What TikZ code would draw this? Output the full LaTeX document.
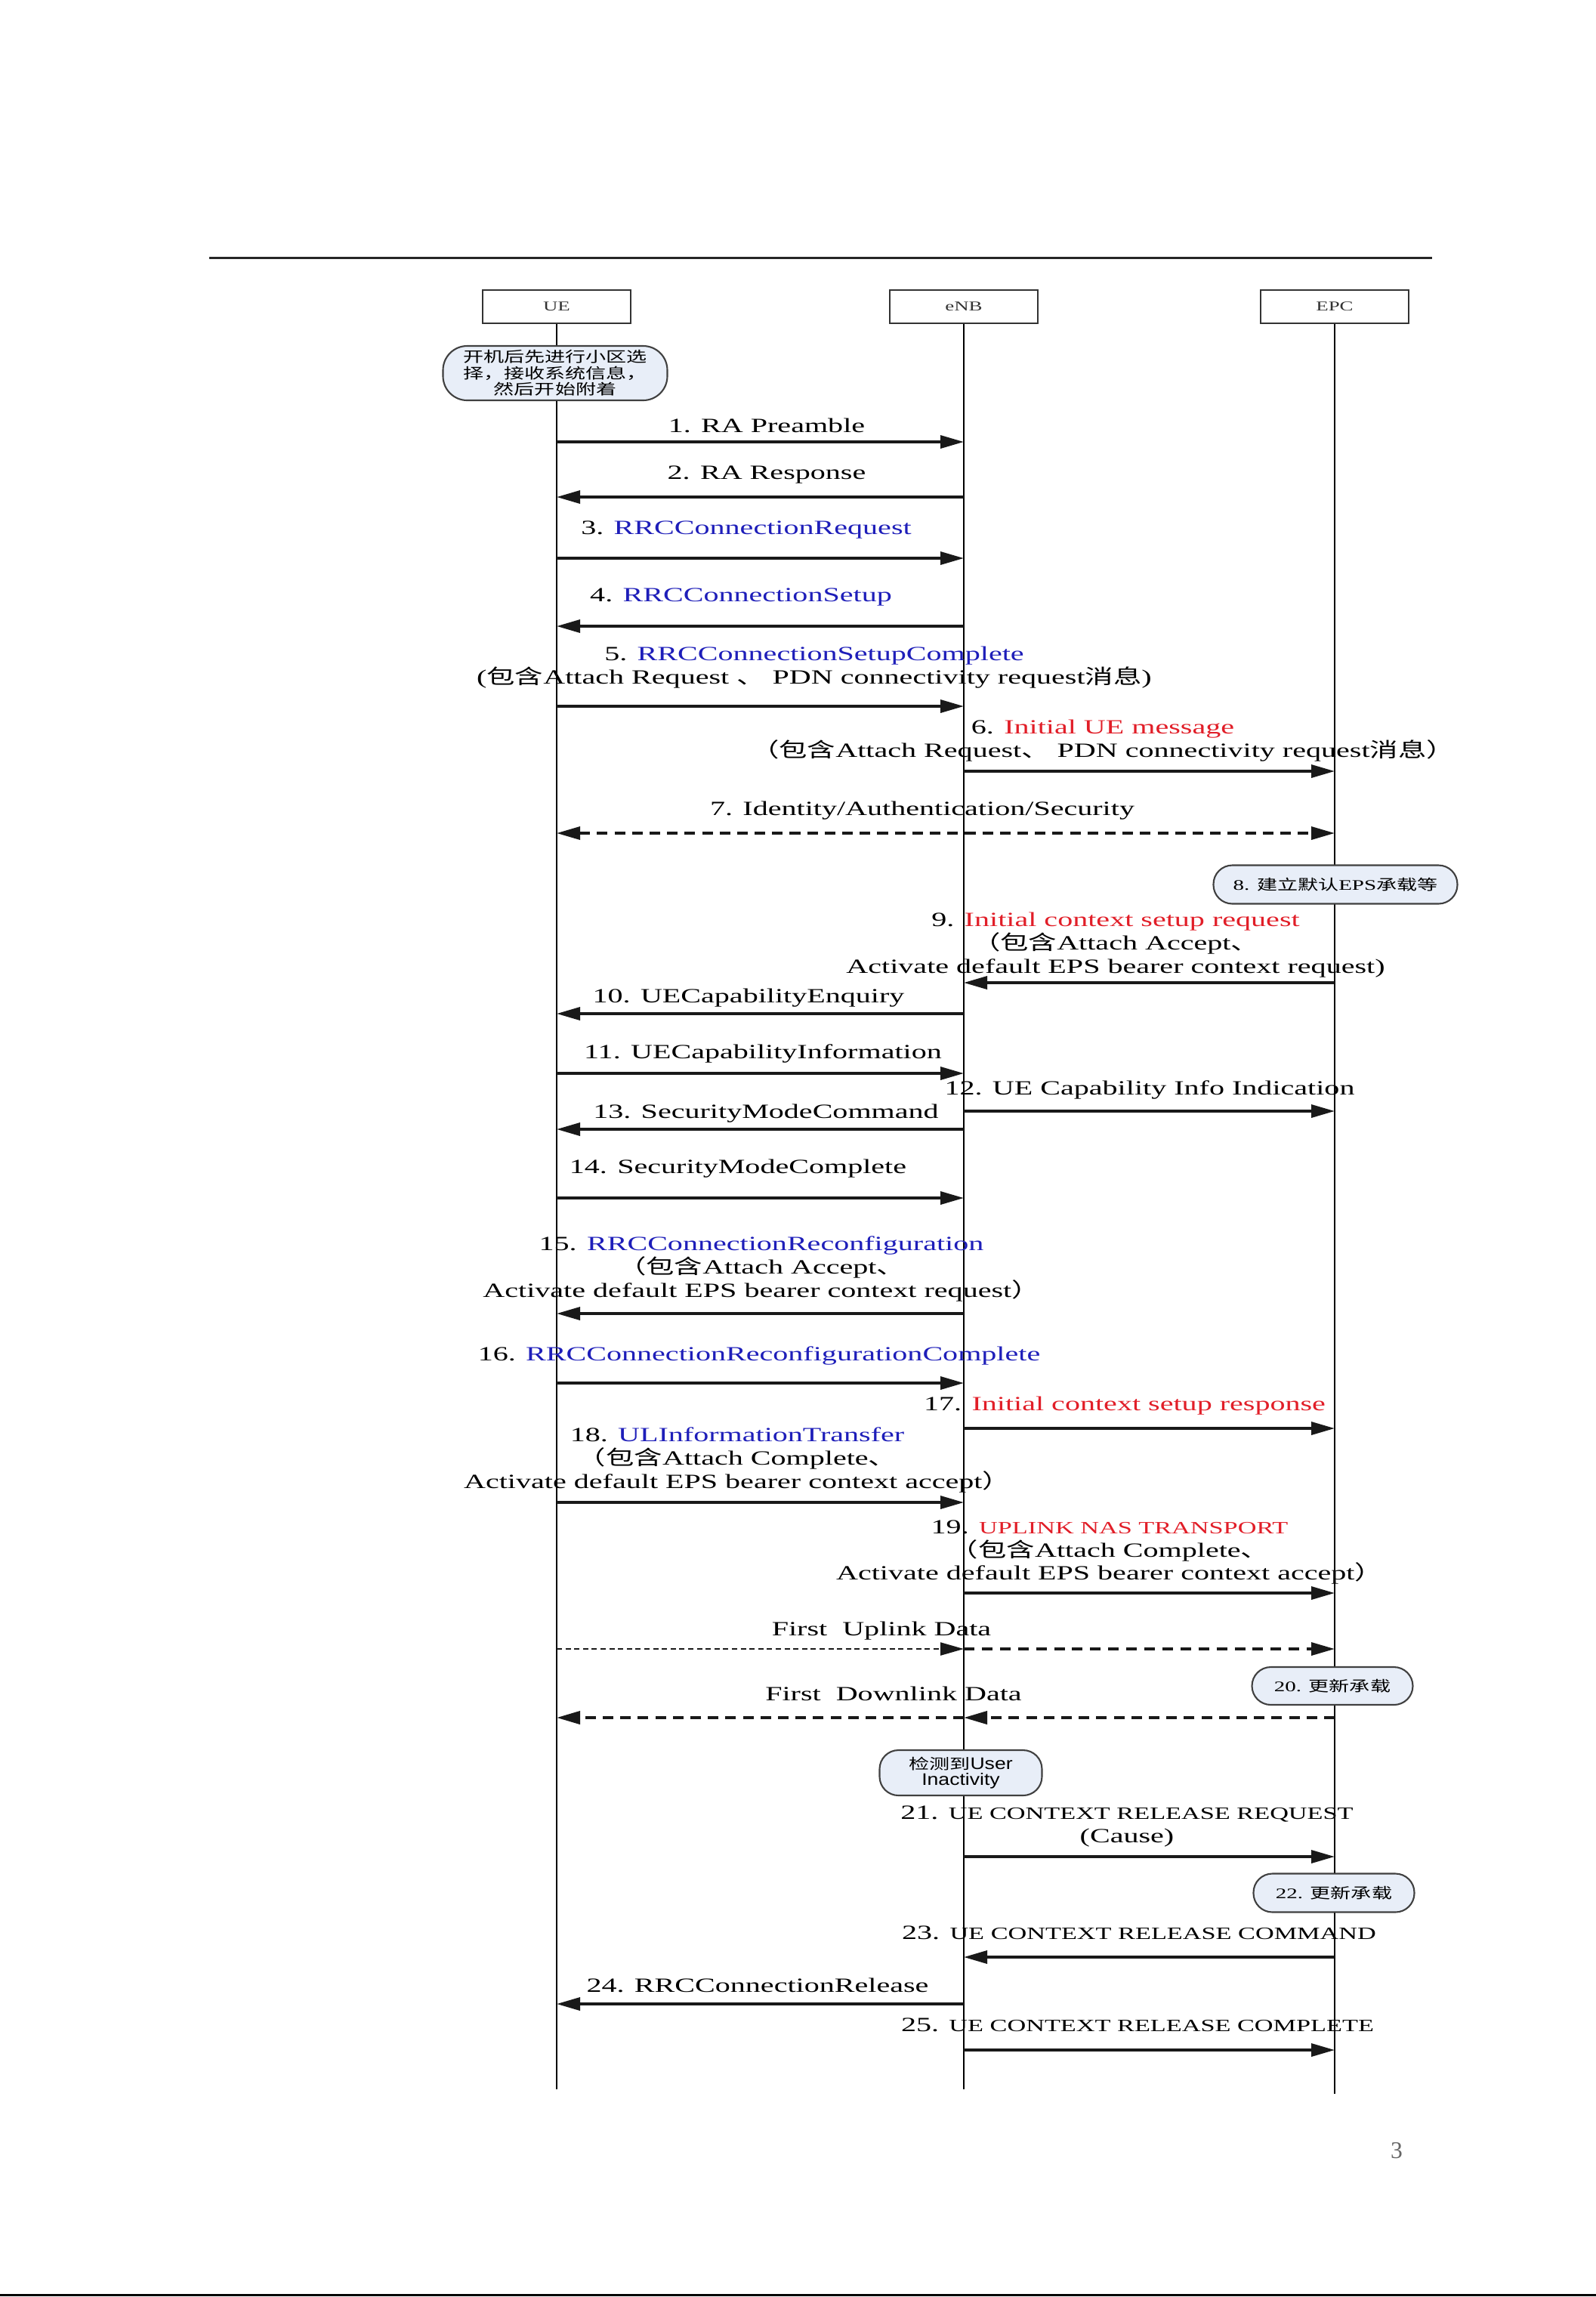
\documentclass[tikz,border=0pt]{standalone}
\usepackage{fontspec}
\setmainfont[FakeStretch=1.5]{Liberation Serif}
\newfontfamily\cjk[FakeStretch=1.4]{Noto Sans CJK SC}
\newfontfamily\notesans[FakeStretch=1.2]{Liberation Sans}
\newfontfamily\pagefont{Liberation Serif}
\usetikzlibrary{arrows.meta}
\definecolor{rrcblue}{RGB}{30,30,185}
\definecolor{sred}{RGB}{225,30,40}
\definecolor{notefill}{RGB}{232,238,248}
\newcommand{\zh}[1]{{\cjk #1}}
\newcommand{\capsz}{\fontsize{6.5pt}{8.8pt}\selectfont}

\begin{document}
\begin{tikzpicture}[x=1cm, y=-1cm, >={Triangle[length=3.1mm,width=1.7mm]},
	actor/.style = {draw=black!80, line width=0.6pt, minimum width=1.96cm, minimum height=0.44cm, inner sep=0pt, text=black!80, font=\fontsize{5.1pt}{6pt}\selectfont},
	life/.style = {line width=0.5pt},
	msg/.style = {->, line width=1pt, draw=black!90},
	lbl/.style = {inner sep=0pt, align=center, font=\fontsize{7.6pt}{8.8pt}\selectfont},
	note/.style = {draw=black!75, line width=0.6pt, fill=notefill, rounded corners=0.25cm, inner sep=0pt, align=center, font=\fontsize{5.5pt}{6.1pt}\selectfont}]
	\useasboundingbox (0,0) rectangle (21.13,30.41);
	\draw[line width=0.85pt, black!85] (2.77,3.41) -- (18.96,3.41);
	\draw[line width=0.9pt] (0,30.385) -- (21.13,30.385);
	\node[text=black!60, font=\pagefont\fontsize{9pt}{10pt}\selectfont] (pg) at (18.49,28.47) {3};
	\begin{scope}[every node/.append style = {actor}]
		\node (ue) at (7.37,4.06) {UE};
		\node (enb) at (12.76,4.06) {eNB};
		\node (epc) at (17.67,4.06) {EPC};
	\end{scope}
	\coordinate (uend) at (7.37,27.66);
	\coordinate (eend) at (12.76,27.66);
	\coordinate (pend) at (17.67,27.72);
	\draw[life] (ue) -- (uend);
	\draw[life] (enb) -- (eend);
	\draw[life] (epc) -- (pend);
	\foreach \n/\y in {1/5.85, 2/6.58, 3/7.39, 4/8.29, 5/9.35, 6/10.21, 7/11.03, 9/13.01, 10/13.42, 11/14.21, 12/14.71, 13/14.95, 14/15.86, 15/17.39, 16/18.31, 17/18.91, 18/19.89, 19/21.09, ul/21.83, dl/22.74, 21/24.58, 23/25.91, 24/26.53, 25/27.14} {
		\coordinate (u\n) at (7.37,\y);
		\coordinate (e\n) at (12.76,\y);
		\coordinate (p\n) at (17.67,\y);
	}
	% notes
	\node[note, minimum width=2.97cm, minimum height=0.72cm, rounded corners=0.32cm, font=\cjk\fontsize{5.5pt}{6.1pt}\selectfont] (n0) at (7.35,4.94) {开机后先进行小区选\\择，接收系统信息，\\然后开始附着};
	\node[note, minimum width=3.23cm, minimum height=0.51cm] (n8) at (17.68,11.71) {8. \zh{建立默认}EPS\zh{承载等}};
	\node[note, minimum width=2.13cm, minimum height=0.50cm] (n20) at (17.64,22.32) {20. \zh{更新承载}};
	\node[note, minimum width=2.15cm, minimum height=0.60cm, font=\notesans\fontsize{6.3pt}{5.8pt}\selectfont] (nin) at (12.72,23.47) {{\cjk\fontsize{5.5pt}{5.8pt}\selectfont 检测到}User\\Inactivity};
	\node[note, minimum width=2.13cm, minimum height=0.51cm] (n22) at (17.66,25.06) {22. \zh{更新承载}};
	% messages
	\node[lbl] (l1) at (10.15,5.63) {1. RA Preamble};
	\draw[msg] (u1) -- (e1);
	\node[lbl] (l2) at (10.15,6.285) {2. RA Response};
	\draw[msg] (e2) -- (u2);
	\node[lbl] (l3) at (9.88,7.01) {3. \textcolor{rrcblue}{RRCConnectionRequest}};
	\draw[msg] (u3) -- (e3);
	\node[lbl] (l4) at (9.81,7.90) {4. \textcolor{rrcblue}{RRCConnectionSetup}};
	\draw[msg] (e4) -- (u4);
	\node[lbl] (l5) at (10.78,8.84) {5. \textcolor{rrcblue}{RRCConnectionSetupComplete}\\(\zh{包含}Attach Request \zh{、} PDN connectivity request\zh{消息})};
	\draw[msg] (u5) -- (e5);
	\node[lbl] (l6) at (14.60,9.81) {6. \textcolor{sred}{Initial UE message}\\\zh{（包含}Attach Request\zh{、} PDN connectivity request\zh{消息）}};
	\draw[msg] (e6) -- (p6);
	\node[lbl] (l7) at (12.21,10.73) {7. Identity/Authentication/Security};
	\draw[msg, <->, dash pattern=on 4pt off 2.6pt] (u7) -- (p7);
	\node[lbl] (l9) at (14.77,12.51) {9. \textcolor{sred}{Initial context setup request}\\\zh{（包含}Attach Accept\zh{、}\\Activate default EPS bearer context request)};
	\draw[msg] (p9) -- (e9);
	\node[lbl] (l10) at (9.91,13.21) {10. UECapabilityEnquiry};
	\draw[msg] (e10) -- (u10);
	\node[lbl] (l11) at (10.10,13.95) {11. UECapabilityInformation};
	\draw[msg] (u11) -- (e11);
	\node[lbl] (l12) at (15.22,14.43) {12. UE Capability Info Indication};
	\draw[msg] (e12) -- (p12);
	\node[lbl] (l13) at (10.14,14.74) {13. SecurityModeCommand};
	\draw[msg] (e13) -- (u13);
	\node[lbl] (l14) at (9.77,15.47) {14. SecurityModeComplete};
	\draw[msg] (u14) -- (e14);
	\node[lbl] (l15) at (10.08,16.80) {15. \textcolor{rrcblue}{RRCConnectionReconfiguration}\\\zh{（包含}Attach Accept\zh{、}\\Activate default EPS bearer context request\zh{）}};
	\draw[msg] (e15) -- (u15);
	\node[lbl] (l16) at (10.05,17.95) {16. \textcolor{rrcblue}{RRCConnectionReconfigurationComplete}};
	\draw[msg] (u16) -- (e16);
	\node[lbl] (l17) at (14.89,18.61) {17. \textcolor{sred}{Initial context setup response}};
	\draw[msg] (e17) -- (p17);
	\node[lbl] (l18) at (9.76,19.33) {18. \textcolor{rrcblue}{ULInformationTransfer}\\\zh{（包含}Attach Complete\zh{、}\\Activate default EPS bearer context accept\zh{）}};
	\draw[msg] (u18) -- (e18);
	\node[lbl] (l19) at (14.69,20.55) {19. \textcolor{sred}{\capsz UPLINK NAS TRANSPORT}\\\zh{（包含}Attach Complete\zh{、}\\Activate default EPS bearer context accept\zh{）}};
	\draw[msg] (e19) -- (p19);
	\node[lbl] (lul) at (11.67,21.59) {First\ \ Uplink Data};
	\draw[msg, line width=0.7pt, dash pattern=on 2pt off 1.3pt] (uul) -- (eul);
	\draw[msg, dash pattern=on 4pt off 2.8pt] (eul) -- (pul);
	\node[lbl] (ldl) at (11.83,22.42) {First\ \ Downlink Data};
	\draw[msg, line width=1.1pt, dash pattern=on 4pt off 2.6pt] (pdl) -- (edl);
	\draw[msg, line width=1.1pt, dash pattern=on 4pt off 2.6pt] (edl) -- (udl);
	\node[lbl] (l21) at (14.92,24.18) {21. {\capsz UE CONTEXT RELEASE REQUEST}\\(Cause)};
	\draw[msg] (e21) -- (p21);
	\node[lbl] (l23) at (15.08,25.59) {23. {\capsz UE CONTEXT RELEASE COMMAND}};
	\draw[msg] (p23) -- (e23);
	\node[lbl] (l24) at (10.03,26.28) {24. RRCConnectionRelease};
	\draw[msg] (e24) -- (u24);
	\node[lbl] (l25) at (15.06,26.81) {25. {\capsz UE CONTEXT RELEASE COMPLETE}};
	\draw[msg] (e25) -- (p25);
\end{tikzpicture}
\end{document}
